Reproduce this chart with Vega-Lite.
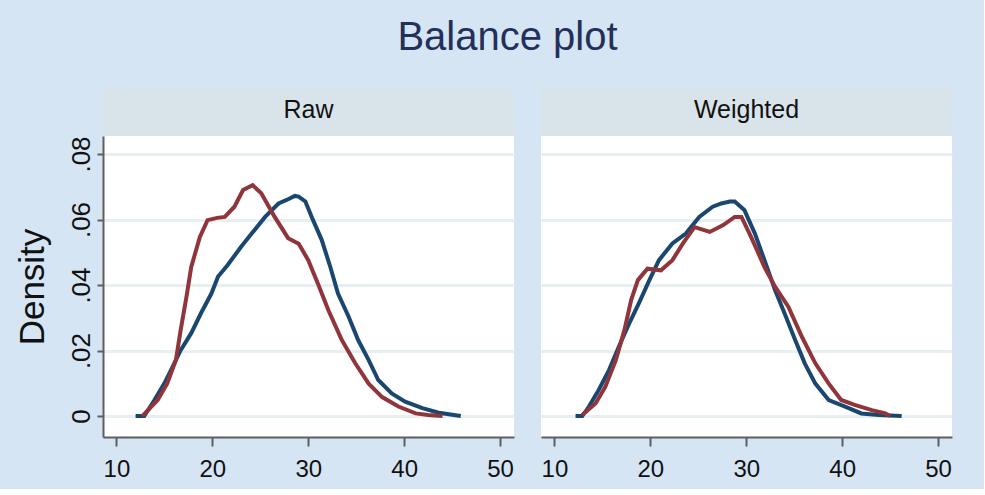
{
  "$schema": "https://vega.github.io/schema/vega-lite/v6.json",
  "background": "#d6e5f4",
  "padding": {"left": 15, "top": 18, "right": 32, "bottom": 8},
  "title": {"text": "Balance plot", "font": "Liberation Sans", "fontSize": 40, "fontWeight": "normal", "color": "#23305a", "anchor": "middle", "frame": "bounds", "offset": 30, "dx": 24},
  "datasets": {
    "panels": [{"panel": "Raw"}, {"panel": "Weighted"}],
    "dens": [
      {"panel": "Raw", "group": "Control", "x": 12.0, "d": 0},
      {"panel": "Raw", "group": "Control", "x": 12.9, "d": 0},
      {"panel": "Raw", "group": "Control", "x": 13.95, "d": 0.0048},
      {"panel": "Raw", "group": "Control", "x": 15.0, "d": 0.0100},
      {"panel": "Raw", "group": "Control", "x": 15.7, "d": 0.0141},
      {"panel": "Raw", "group": "Control", "x": 16.7, "d": 0.0201},
      {"panel": "Raw", "group": "Control", "x": 17.8, "d": 0.0253},
      {"panel": "Raw", "group": "Control", "x": 18.8, "d": 0.0313},
      {"panel": "Raw", "group": "Control", "x": 19.9, "d": 0.0374},
      {"panel": "Raw", "group": "Control", "x": 20.6, "d": 0.0426},
      {"panel": "Raw", "group": "Control", "x": 21.6, "d": 0.0461},
      {"panel": "Raw", "group": "Control", "x": 23.0, "d": 0.0517},
      {"panel": "Raw", "group": "Control", "x": 24.1, "d": 0.0557},
      {"panel": "Raw", "group": "Control", "x": 25.5, "d": 0.0608},
      {"panel": "Raw", "group": "Control", "x": 26.9, "d": 0.0649},
      {"panel": "Raw", "group": "Control", "x": 27.9, "d": 0.0662},
      {"panel": "Raw", "group": "Control", "x": 28.6, "d": 0.0672},
      {"panel": "Raw", "group": "Control", "x": 29.0, "d": 0.0670},
      {"panel": "Raw", "group": "Control", "x": 29.7, "d": 0.0655},
      {"panel": "Raw", "group": "Control", "x": 30.5, "d": 0.0598},
      {"panel": "Raw", "group": "Control", "x": 31.4, "d": 0.0538},
      {"panel": "Raw", "group": "Control", "x": 32.3, "d": 0.0455},
      {"panel": "Raw", "group": "Control", "x": 33.1, "d": 0.0374},
      {"panel": "Raw", "group": "Control", "x": 34.2, "d": 0.0304},
      {"panel": "Raw", "group": "Control", "x": 35.2, "d": 0.0232},
      {"panel": "Raw", "group": "Control", "x": 36.3, "d": 0.0171},
      {"panel": "Raw", "group": "Control", "x": 37.3, "d": 0.0110},
      {"panel": "Raw", "group": "Control", "x": 38.7, "d": 0.0069},
      {"panel": "Raw", "group": "Control", "x": 40.1, "d": 0.0044},
      {"panel": "Raw", "group": "Control", "x": 41.9, "d": 0.0024},
      {"panel": "Raw", "group": "Control", "x": 43.6, "d": 0.0010},
      {"panel": "Raw", "group": "Control", "x": 45.9, "d": 0},
      {"panel": "Raw", "group": "Treated", "x": 12.7, "d": 0},
      {"panel": "Raw", "group": "Treated", "x": 14.3, "d": 0.0049},
      {"panel": "Raw", "group": "Treated", "x": 15.3, "d": 0.0100},
      {"panel": "Raw", "group": "Treated", "x": 16.2, "d": 0.0171},
      {"panel": "Raw", "group": "Treated", "x": 16.7, "d": 0.0263},
      {"panel": "Raw", "group": "Treated", "x": 17.3, "d": 0.0364},
      {"panel": "Raw", "group": "Treated", "x": 17.8, "d": 0.0455},
      {"panel": "Raw", "group": "Treated", "x": 18.7, "d": 0.0547},
      {"panel": "Raw", "group": "Treated", "x": 19.5, "d": 0.0598},
      {"panel": "Raw", "group": "Treated", "x": 20.5, "d": 0.0605},
      {"panel": "Raw", "group": "Treated", "x": 21.3, "d": 0.0608},
      {"panel": "Raw", "group": "Treated", "x": 22.3, "d": 0.0639},
      {"panel": "Raw", "group": "Treated", "x": 23.2, "d": 0.0690},
      {"panel": "Raw", "group": "Treated", "x": 24.2, "d": 0.0705},
      {"panel": "Raw", "group": "Treated", "x": 25.1, "d": 0.0680},
      {"panel": "Raw", "group": "Treated", "x": 26.5, "d": 0.0608},
      {"panel": "Raw", "group": "Treated", "x": 27.9, "d": 0.0543},
      {"panel": "Raw", "group": "Treated", "x": 29.0, "d": 0.0526},
      {"panel": "Raw", "group": "Treated", "x": 30.0, "d": 0.0476},
      {"panel": "Raw", "group": "Treated", "x": 31.0, "d": 0.0405},
      {"panel": "Raw", "group": "Treated", "x": 32.1, "d": 0.0323},
      {"panel": "Raw", "group": "Treated", "x": 33.5, "d": 0.0232},
      {"panel": "Raw", "group": "Treated", "x": 34.9, "d": 0.0161},
      {"panel": "Raw", "group": "Treated", "x": 36.3, "d": 0.0099},
      {"panel": "Raw", "group": "Treated", "x": 37.7, "d": 0.0058},
      {"panel": "Raw", "group": "Treated", "x": 39.4, "d": 0.0029},
      {"panel": "Raw", "group": "Treated", "x": 41.2, "d": 0.0008},
      {"panel": "Raw", "group": "Treated", "x": 42.5, "d": 0.0003},
      {"panel": "Raw", "group": "Treated", "x": 44.0, "d": 0},
      {"panel": "Weighted", "group": "Control", "x": 12.2, "d": 0},
      {"panel": "Weighted", "group": "Control", "x": 12.9, "d": 0},
      {"panel": "Weighted", "group": "Control", "x": 13.6, "d": 0.0029},
      {"panel": "Weighted", "group": "Control", "x": 14.6, "d": 0.0079},
      {"panel": "Weighted", "group": "Control", "x": 15.7, "d": 0.0141},
      {"panel": "Weighted", "group": "Control", "x": 16.7, "d": 0.0211},
      {"panel": "Weighted", "group": "Control", "x": 17.8, "d": 0.0283},
      {"panel": "Weighted", "group": "Control", "x": 18.8, "d": 0.0344},
      {"panel": "Weighted", "group": "Control", "x": 19.9, "d": 0.0415},
      {"panel": "Weighted", "group": "Control", "x": 20.9, "d": 0.0476},
      {"panel": "Weighted", "group": "Control", "x": 22.3, "d": 0.0527},
      {"panel": "Weighted", "group": "Control", "x": 23.7, "d": 0.0557},
      {"panel": "Weighted", "group": "Control", "x": 25.1, "d": 0.0608},
      {"panel": "Weighted", "group": "Control", "x": 26.5, "d": 0.0639},
      {"panel": "Weighted", "group": "Control", "x": 27.4, "d": 0.0649},
      {"panel": "Weighted", "group": "Control", "x": 28.3, "d": 0.0655},
      {"panel": "Weighted", "group": "Control", "x": 28.8, "d": 0.0655},
      {"panel": "Weighted", "group": "Control", "x": 29.8, "d": 0.0629},
      {"panel": "Weighted", "group": "Control", "x": 30.9, "d": 0.0557},
      {"panel": "Weighted", "group": "Control", "x": 31.9, "d": 0.0476},
      {"panel": "Weighted", "group": "Control", "x": 33.0, "d": 0.0385},
      {"panel": "Weighted", "group": "Control", "x": 34.0, "d": 0.0313},
      {"panel": "Weighted", "group": "Control", "x": 35.1, "d": 0.0232},
      {"panel": "Weighted", "group": "Control", "x": 36.1, "d": 0.0161},
      {"panel": "Weighted", "group": "Control", "x": 37.2, "d": 0.0099},
      {"panel": "Weighted", "group": "Control", "x": 38.6, "d": 0.0049},
      {"panel": "Weighted", "group": "Control", "x": 40.3, "d": 0.0029},
      {"panel": "Weighted", "group": "Control", "x": 42.0, "d": 0.0008},
      {"panel": "Weighted", "group": "Control", "x": 43.8, "d": 0.0003},
      {"panel": "Weighted", "group": "Control", "x": 46.2, "d": 0},
      {"panel": "Weighted", "group": "Treated", "x": 12.9, "d": 0.0003},
      {"panel": "Weighted", "group": "Treated", "x": 14.3, "d": 0.0039},
      {"panel": "Weighted", "group": "Treated", "x": 15.3, "d": 0.0089},
      {"panel": "Weighted", "group": "Treated", "x": 16.4, "d": 0.0171},
      {"panel": "Weighted", "group": "Treated", "x": 17.3, "d": 0.0263},
      {"panel": "Weighted", "group": "Treated", "x": 18.0, "d": 0.0354},
      {"panel": "Weighted", "group": "Treated", "x": 18.7, "d": 0.0415},
      {"panel": "Weighted", "group": "Treated", "x": 19.7, "d": 0.0450},
      {"panel": "Weighted", "group": "Treated", "x": 21.1, "d": 0.0445},
      {"panel": "Weighted", "group": "Treated", "x": 22.3, "d": 0.0476},
      {"panel": "Weighted", "group": "Treated", "x": 23.4, "d": 0.0527},
      {"panel": "Weighted", "group": "Treated", "x": 24.6, "d": 0.0577},
      {"panel": "Weighted", "group": "Treated", "x": 26.2, "d": 0.0562},
      {"panel": "Weighted", "group": "Treated", "x": 27.6, "d": 0.0583},
      {"panel": "Weighted", "group": "Treated", "x": 28.8, "d": 0.0608},
      {"panel": "Weighted", "group": "Treated", "x": 29.5, "d": 0.0608},
      {"panel": "Weighted", "group": "Treated", "x": 30.5, "d": 0.0547},
      {"panel": "Weighted", "group": "Treated", "x": 31.9, "d": 0.0455},
      {"panel": "Weighted", "group": "Treated", "x": 33.0, "d": 0.0395},
      {"panel": "Weighted", "group": "Treated", "x": 34.4, "d": 0.0333},
      {"panel": "Weighted", "group": "Treated", "x": 35.8, "d": 0.0242},
      {"panel": "Weighted", "group": "Treated", "x": 37.2, "d": 0.0161},
      {"panel": "Weighted", "group": "Treated", "x": 38.6, "d": 0.0099},
      {"panel": "Weighted", "group": "Treated", "x": 39.9, "d": 0.0049},
      {"panel": "Weighted", "group": "Treated", "x": 41.3, "d": 0.0034},
      {"panel": "Weighted", "group": "Treated", "x": 43.1, "d": 0.0018},
      {"panel": "Weighted", "group": "Treated", "x": 44.5, "d": 0.0008},
      {"panel": "Weighted", "group": "Treated", "x": 45.0, "d": 0}
    ]
  },
  "spacing": 27,
  "hconcat": [
    {
      "bounds": "flush",
      "spacing": 0,
      "vconcat": [
        {
          "width": 411,
          "height": 48,
          "data": {"name": "panels"},
          "transform": [{"filter": "datum.panel === 'Raw'"}],
          "mark": {"type": "text", "font": "Liberation Sans", "fontSize": 25, "color": "#111111", "baseline": "middle", "align": "center", "dy": -2},
          "encoding": {"text": {"field": "panel", "type": "nominal"}},
          "view": {"fill": "#d9e4ea", "stroke": null}
        },
        {
          "width": 411,
          "height": 301,
          "data": {"name": "dens"},
          "transform": [{"filter": "datum.panel === 'Raw'"}],
          "mark": {"type": "line", "strokeWidth": 4, "interpolate": "linear"},
          "encoding": {
            "x": {"field": "x", "type": "quantitative", "scale": {"domain": [8.6, 51.45], "nice": false, "zero": false},
                  "axis": {"values": [10, 20, 30, 40, 50], "title": null, "grid": false}},
            "y": {"field": "d", "type": "quantitative", "scale": {"domain": [-0.0064, 0.0855], "nice": false, "zero": false},
                  "axis": {"values": [0, 0.02, 0.04, 0.06, 0.08], "title": "Density", "grid": true, "tickSize": 6,
                           "labelAngle": -90, "labelAlign": "center", "labelBaseline": "alphabetic", "labelPadding": 8,
                           "labelFont": "Liberation Sans", "labelFontSize": 26, "titleFont": "Liberation Sans", "titleFontSize": 35, "titlePadding": 18,
                           "labelExpr": "datum.value === 0 ? '0' : replace(format(datum.value, '.2f'), '0.', '.')"}},
            "color": {"field": "group", "type": "nominal", "scale": {"domain": ["Control", "Treated"], "range": ["#1a476f", "#90353b"]}, "legend": null}
          },
          "view": {"fill": "white", "stroke": null}
        }
      ]
    },
    {
      "bounds": "flush",
      "spacing": 0,
      "vconcat": [
        {
          "width": 411,
          "height": 48,
          "data": {"name": "panels"},
          "transform": [{"filter": "datum.panel === 'Weighted'"}],
          "mark": {"type": "text", "font": "Liberation Sans", "fontSize": 25, "color": "#111111", "baseline": "middle", "align": "center", "dy": -2},
          "encoding": {"text": {"field": "panel", "type": "nominal"}},
          "view": {"fill": "#d9e4ea", "stroke": null}
        },
        {
          "width": 411,
          "height": 301,
          "data": {"name": "dens"},
          "transform": [{"filter": "datum.panel === 'Weighted'"}],
          "mark": {"type": "line", "strokeWidth": 4, "interpolate": "linear"},
          "encoding": {
            "x": {"field": "x", "type": "quantitative", "scale": {"domain": [8.6, 51.45], "nice": false, "zero": false},
                  "axis": {"values": [10, 20, 30, 40, 50], "title": null, "grid": false}},
            "y": {"field": "d", "type": "quantitative", "scale": {"domain": [-0.0064, 0.0855], "nice": false, "zero": false},
                  "axis": {"values": [0, 0.02, 0.04, 0.06, 0.08], "title": null, "grid": true, "labels": false, "ticks": false, "domain": false}},
            "color": {"field": "group", "type": "nominal", "scale": {"domain": ["Control", "Treated"], "range": ["#1a476f", "#90353b"]}, "legend": null}
          },
          "view": {"fill": "white", "stroke": null}
        }
      ]
    }
  ],
  "config": {
    "view": {"stroke": null},
    "axis": {
      "domainColor": "#5e5e5e", "domainWidth": 2, "tickColor": "#5e5e5e", "tickWidth": 2,
      "gridColor": "#e8eff1", "gridWidth": 3,
      "labelColor": "#111111", "titleColor": "#111111", "titleFontWeight": "normal"
    },
    "axisX": {"tickSize": 9, "labelPadding": 11, "labelFont": "Liberation Sans", "labelFontSize": 24}
  }
}
